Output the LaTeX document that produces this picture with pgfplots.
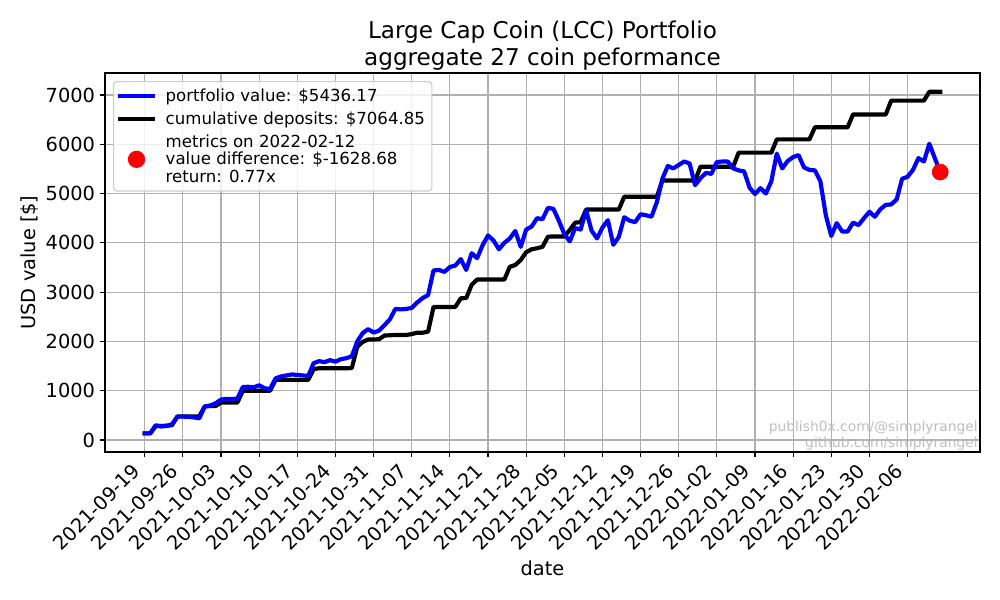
\documentclass[border=0pt]{standalone}
\usepackage{fontspec}
\setmainfont{DejaVu Sans}
\usepackage{pgfplots}
\pgfplotsset{compat=1.18}
\usepackage{pgfplotstable}

% daily portfolio value, day 0 = 2021-09-19
\pgfplotstableread{
day value
0 135
1 135
2 300
3 275
4 285
5 320
6 475
7 475
8 470
9 460
10 440
11 680
12 700
13 745
14 820
15 835
16 830
17 840
18 1075
19 1080
20 1070
21 1110
22 1050
23 1035
24 1250
25 1290
26 1310
27 1330
28 1320
29 1310
30 1300
31 1560
32 1600
33 1580
34 1620
35 1590
36 1640
37 1660
38 1700
39 2000
40 2170
41 2250
42 2180
43 2220
44 2330
45 2450
46 2660
47 2650
48 2660
49 2680
50 2790
51 2880
52 2940
53 3440
54 3450
55 3410
56 3510
57 3540
58 3670
59 3450
60 3790
61 3690
62 3950
63 4150
64 4050
65 3870
66 4000
67 4090
68 4240
69 3920
70 4270
71 4330
72 4500
73 4480
74 4710
75 4690
76 4450
77 4180
78 4030
79 4300
80 4270
81 4660
82 4250
83 4090
84 4310
85 4460
86 3960
87 4120
88 4520
89 4450
90 4420
91 4580
92 4560
93 4530
94 4830
95 5300
96 5560
97 5510
98 5580
99 5650
100 5610
101 5170
102 5310
103 5420
104 5400
105 5640
106 5650
107 5650
108 5510
109 5470
110 5450
111 5120
112 4990
113 5110
114 5000
115 5250
116 5810
117 5510
118 5660
119 5740
120 5780
121 5530
122 5480
123 5470
124 5250
125 4560
126 4140
127 4400
128 4230
129 4230
130 4410
131 4360
132 4500
133 4630
134 4530
135 4680
136 4770
137 4780
138 4880
139 5300
140 5340
141 5480
142 5720
143 5650
144 6010
145 5720
146 5436.17
}\portfolio

% cumulative deposits
\pgfplotstableread{
day value
0 135
1 135
2 280
3 285
4 290
5 300
6 480
7 480
8 480
9 480
10 480
11 680
12 690
13 690
14 760
15 760
16 760
17 760
18 1000
19 1000
20 1000
21 1000
22 1000
23 1000
24 1220
25 1220
26 1220
27 1220
28 1220
29 1220
30 1220
31 1440
32 1455
33 1455
34 1455
35 1455
36 1455
37 1455
38 1460
39 1890
40 1990
41 2040
42 2040
43 2045
44 2120
45 2125
46 2130
47 2130
48 2130
49 2150
50 2177
51 2177
52 2200
53 2700
54 2700
55 2700
56 2700
57 2700
58 2875
59 2880
60 3150
61 3255
62 3255
63 3255
64 3255
65 3255
66 3255
67 3515
68 3550
69 3650
70 3810
71 3870
72 3890
73 3920
74 4125
75 4130
76 4130
77 4130
78 4260
79 4410
80 4420
81 4675
82 4675
83 4675
84 4675
85 4675
86 4675
87 4675
88 4935
89 4935
90 4935
91 4935
92 4935
93 4935
94 4935
95 5265
96 5265
97 5265
98 5265
99 5265
100 5265
101 5265
102 5545
103 5545
104 5545
105 5545
106 5545
107 5545
108 5545
109 5830
110 5830
111 5830
112 5830
113 5830
114 5830
115 5830
116 6100
117 6100
118 6100
119 6100
120 6100
121 6100
122 6100
123 6345
124 6345
125 6345
126 6345
127 6345
128 6345
129 6345
130 6605
131 6605
132 6605
133 6605
134 6605
135 6605
136 6605
137 6885
138 6885
139 6885
140 6885
141 6885
142 6885
143 6885
144 7064.85
145 7064.85
146 7064.85
}\deposits

\definecolor{gridgray}{RGB}{176,176,176}
\definecolor{legendedge}{RGB}{204,204,204}
\definecolor{markgray}{RGB}{190,190,190}

\begin{document}
\begin{tikzpicture}
\useasboundingbox (-75.6bp,-106.56bp) rectangle (644.4bp,325.44bp);
\begin{axis}[
  scale only axis,
  width=630bp, height=272.88bp,
  xmin=-7.3, xmax=153.3,
  ymin=-243, ymax=7446,
  xtick={0,7,...,140},
  xticklabels={2021-09-19,2021-09-26,2021-10-03,2021-10-10,2021-10-17,2021-10-24,2021-10-31,2021-11-07,2021-11-14,2021-11-21,2021-11-28,2021-12-05,2021-12-12,2021-12-19,2021-12-26,2022-01-02,2022-01-09,2022-01-16,2022-01-23,2022-01-30,2022-02-06},
  ytick={0,1000,...,7000},
  scaled y ticks=false,
  /pgf/number format/assume math mode=true,
  /pgf/number format/1000 sep={},
  grid=major,
  major grid style={line width=0.8bp, draw=gridgray},
  axis line style={line width=0.8bp},
  tick align=outside, tick pos=left,
  major tick length=3.5bp,
  tick style={black, line width=0.8bp},
  tick label style={font=\fontsize{14}{16}\selectfont},
  xticklabel style={xshift=-9.9bp, yshift=-3.5bp, rotate=45, anchor=north east, inner sep=0pt},
  yticklabel style={anchor=east, inner sep=0pt, xshift=-3.5bp},
  xlabel={date},
  ylabel={USD value [\$]},
  label style={font=\fontsize{14}{16}\selectfont},
  xlabel style={at={(axis description cs:0.5,-0.306)}, anchor=center},
  ylabel style={at={(axis description cs:-0.0857,0.5)}, anchor=center},
  title={Large Cap Coin (LCC) Portfolio\\aggregate 27 coin peformance},
  title style={font=\fontsize{16.7}{19.4}\selectfont, align=center, at={(axis description cs:0.5,1)}, anchor=south, yshift=-4bp, inner sep=0pt},
  legend image code/.code={\draw[mark repeat=2,mark phase=2,#1] plot coordinates {(0bp,0bp) (12bp,0bp) (24bp,0bp)};},
  legend cell align=left,
  legend style={
    at={(axis description cs:0,1)}, anchor=north west,
    xshift=5.8bp, yshift=-5.8bp,
    draw=legendedge, line width=0.8bp, rounded corners=2.5bp,
    fill=white, fill opacity=0.8, text opacity=1,
    font=\fontsize{12}{12.6}\selectfont,
    inner xsep=3bp, inner ysep=3bp, row sep=2bp, column sep=5.5bp,
    cells={anchor=west, align=left},
  },
]
\addlegendimage{blue, line width=3bp, line cap=rect}
\addlegendentry{portfolio value: \$5436.17}
\addlegendimage{black, line width=3bp, line cap=rect}
\addlegendentry{cumulative deposits: \$7064.85}
\addlegendimage{only marks, mark=*, mark size=5.8bp, red, fill opacity=1, draw opacity=1}
\addlegendentry{metrics on 2022-02-12\\value difference: \$-1628.68\\return: 0.77x}

\addplot[black, line width=3bp, line join=round, line cap=rect, forget plot] table[x=day, y=value] {\deposits};
\addplot[blue, line width=3bp, line join=round, line cap=rect, forget plot] table[x=day, y=value] {\portfolio};
\addplot[only marks, mark=*, mark size=5.8bp, red, forget plot] coordinates {(146,5436.17)};

\node[anchor=south east, align=right, text=markgray, font=\fontsize{10}{11.5}\selectfont, inner sep=0pt]
  at (rel axis cs:1,0) [xshift=-1.5bp, yshift=1.2bp] {publish0x.com/@simplyrangel\\github.com/simplyrangel};
\end{axis}
\end{tikzpicture}
\end{document}
